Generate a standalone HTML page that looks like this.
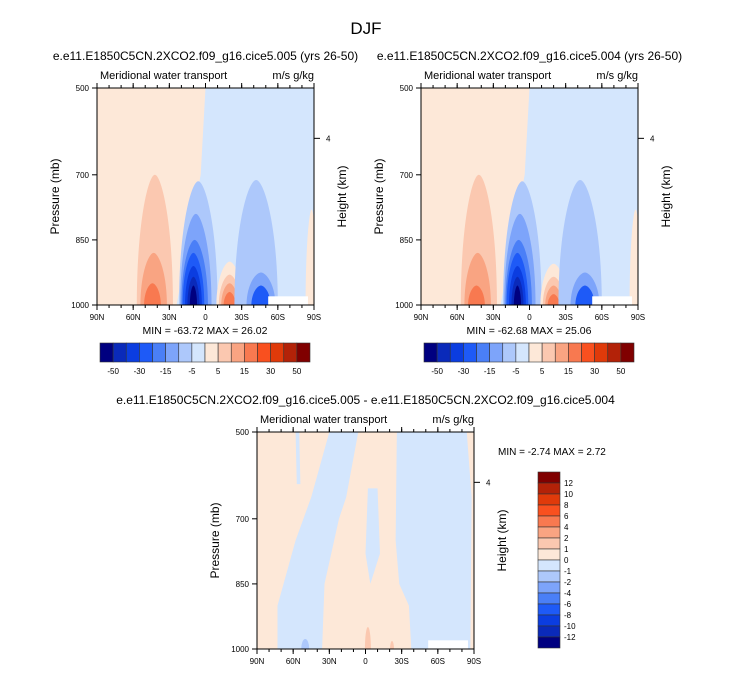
<!DOCTYPE html>
<html><head><meta charset="utf-8"><style>
body{margin:0;background:#fff;font-family:"Liberation Sans",sans-serif}
svg text{font-family:"Liberation Sans",sans-serif}
</style></head><body>
<svg id="fig" width="733" height="673" viewBox="0 0 733 673">
<text x="366" y="34" font-size="17" text-anchor="middle">DJF</text>
</svg>
<script>
const NS="http://www.w3.org/2000/svg";
const fig=document.getElementById('fig');
const colors=["#000080","#0a2aba","#0b3de0","#1e5af7","#4a7ff7","#7da4fa","#adc8fb","#d4e6fd","#fde8d8","#fbc8b0","#f9a482","#f87950","#f9501f","#e03a0a","#b32208","#800000"];
const latTicks=["90N","60N","30N","0","30S","60S","90S"];
const presTicks=[500,700,850,1000];
const cbLabelsTop=["-50","-30","-15","-5","5","15","30","50"];
const cbLabelsDiff=["12","10","8","6","4","2","1","0","-1","-2","-4","-6","-8","-10","-12"];
// blobs: [centerLat, halfWidthDeg, topPressure, colorIndex]
const blobsA=[[42,15,700,9],[43,11,880,10],[44,7,950,11],[6,16,715,6],[8,13,790,5],[9,11,850,4],[10,9,880,3],[10,7,910,2],[10,5,935,1],[10,3,955,0],[-20,11,900,8],[-20,9,930,9],[-20,7,950,10],[-20,5,970,11],[-42,18,712,6],[-46,12,925,5],[-46,8,955,3],[-88,5,780,8]];
const blobsB=[[42,15,700,9],[43,11,880,10],[44,7,955,11],[6,16,715,6],[8,13,790,5],[9,11,850,4],[10,9,880,3],[10,7,910,2],[10,5,935,1],[10,3,955,0],[-20,11,905,8],[-20,9,935,9],[-20,7,955,10],[-20,5,975,11],[-42,18,712,6],[-46,12,925,5],[-46,8,955,3],[-88,5,780,8]];
// diff panel negative regions as [lat, pressure] vertex lists
const diffNeg=[
 [[-26,500],[-84,500],[-88,650],[-87,1000],[-38,1000],[-36,900],[-28,850],[-25,750]],
 [[30,500],[6,500],[16,650],[22,700],[34,850],[36,1000],[73,1000],[73,900],[58,750],[45,650]],
 [[-2,630],[-10,630],[-12,780],[-4,850],[0,780]],
 [[58,500],[55,500],[54,620],[57,620]]
];
function el(tag,attrs,parent,name,inter){const e=document.createElementNS(NS,tag);for(const k in attrs)e.setAttribute(k,attrs[k]);


(parent||fig).appendChild(e);return e;}
function txt(x,y,s,size,anchor,name,parent,rot){const t=el('text',{x:x,y:y,'font-size':size,'text-anchor':anchor||'start'},parent,name,false);if(rot)t.setAttribute('transform','rotate(-90 '+x+' '+y+')');t.textContent=s;return t;}
function panel(px,py,title,blobs,mode,idx){
 const W=217,H=217;
 const xs=lat=>px+(90-lat)/180*W;
 const ys=p=>py+(p-500)/500*H;
 const g=el('g',{},fig,'panel-'+idx,false);
 const cid='clip'+idx;
 const cp=el('clipPath',{id:cid},g,'clip',false);
 el('rect',{x:px,y:py,width:W,height:H},cp,'clip-rect',false);
 const f=el('g',{'clip-path':'url(#'+cid+')'},g,'contour-field',false);
 if(mode==='full'){
  el('rect',{x:px,y:py,width:W,height:H,fill:colors[7]},f,'background-negative',false);
  el('polygon',{points:`${px},${py} ${xs(0)},${py} ${xs(4)},${ys(700)} ${xs(24)},${ys(1000)} ${px},${ys(1000)}`,fill:colors[8]},f,'positive-region-north',false);
  blobs.forEach(b=>{const cx=xs(b[0]),rx=b[1]/180*W,yb=ys(1000)+1,yt=ys(b[2]),h=yb-yt;
   const d=`M${cx-rx},${yb} C${cx-rx},${yt+h*0.35} ${cx-rx*0.35},${yt} ${cx},${yt} C${cx+rx*0.35},${yt} ${cx+rx},${yt+h*0.35} ${cx+rx},${yb} Z`;
   el('path',{d:d,fill:colors[b[3]]},f,'contour-blob',false);});
  el('rect',{x:xs(-52),y:ys(980),width:xs(-85)-xs(-52),height:ys(1000)-ys(980)+1,fill:'#fff'},f,'missing-data',false);
 } else {
  el('rect',{x:px,y:py,width:W,height:H,fill:colors[8]},f,'background-positive',false);
  diffNeg.forEach(poly=>{el('polygon',{points:poly.map(v=>xs(v[0])+','+ys(v[1])).join(' '),fill:colors[7]},f,'negative-region',false);});
  el('ellipse',{cx:xs(50),cy:ys(1000),rx:4,ry:10,fill:colors[6]},f,'contour-blob',false);
  el('ellipse',{cx:xs(-2),cy:ys(1000),rx:3,ry:22,fill:colors[9]},f,'contour-blob',false);
  el('ellipse',{cx:xs(-22),cy:ys(1000),rx:2,ry:8,fill:colors[9]},f,'contour-blob',false);
  el('rect',{x:xs(-52),y:ys(980),width:xs(-85)-xs(-52),height:ys(1000)-ys(980)+1,fill:'#fff'},f,'missing-data',false);
 }
 el('rect',{x:px,y:py,width:W,height:H,fill:'none',stroke:'#000','stroke-width':1},g,'plot-frame',false);
 latTicks.forEach((l,i)=>{const x=px+i*W/6;
  el('line',{x1:x,y1:py+H,x2:x,y2:py+H+5,stroke:'#000'},g,'x-tick',false);
  el('line',{x1:x,y1:py,x2:x,y2:py-5,stroke:'#000'},g,'x-tick-top',false);
  txt(x,py+H+15,l,8,'middle','x-tick-label',g);});
 for(let i=0;i<18;i++){const x=px+i*W/18;el('line',{x1:x,y1:py+H,x2:x,y2:py+H+3,stroke:'#000'},g,'x-minor-tick',false);el('line',{x1:x,y1:py,x2:x,y2:py-3,stroke:'#000'},g,'x-minor-tick-top',false);}
 presTicks.forEach(p=>{const y=ys(p);el('line',{x1:px,y1:y,x2:px-5,y2:y,stroke:'#000'},g,'y-tick',false);txt(px-8,y+3,String(p),8,'end','y-tick-label',g);});
 el('line',{x1:px+W,y1:ys(616),x2:px+W+6,y2:ys(616),stroke:'#000'},g,'height-tick',false);
 txt(px+W+12,ys(616)+3,'4',8,'start','height-tick-label',g);
 txt(px-38,py+H/2,'Pressure (mb)',12,'middle','y-axis-title',g,true);
 txt(px+W+32,py+H/2,'Height (km)',12,'middle','right-axis-title',g,true);
 txt(px+3,py-9,'Meridional water transport',11,'start','left-subtitle',g);
 txt(px+W,py-9,'m/s g/kg',11,'end','units-label',g);
 txt(px+W/2,py-28,title,12,'middle','panel-title',g);
 return g;
}
function cbHoriz(x0,y0,w,h,idx,minmax){
 const g=el('g',{},fig,'colorbar-'+idx,false);
 const bw=w/16;
 colors.forEach((c,i)=>el('rect',{x:x0+i*bw,y:y0,width:bw,height:h,fill:c,stroke:'#333','stroke-width':0.6},g,'colorbar-box',false));
 cbLabelsTop.forEach((l,i)=>txt(x0+(2*i+1)*bw,y0+h+12,l,8,'middle','colorbar-label',g));
 txt(x0+w/2,y0-9,minmax,10.5,'middle','min-max-label',g);
}
panel(97,88,'e.e11.E1850C5CN.2XCO2.f09_g16.cice5.005 (yrs 26-50)',blobsA,'full',1);
panel(421,88,'e.e11.E1850C5CN.2XCO2.f09_g16.cice5.004 (yrs 26-50)',blobsB,'full',2);
panel(257,432,'e.e11.E1850C5CN.2XCO2.f09_g16.cice5.005 - e.e11.E1850C5CN.2XCO2.f09_g16.cice5.004',null,'diff',3);
cbHoriz(100,343,210,19,1,'MIN = -63.72  MAX = 26.02');
cbHoriz(424,343,210,19,2,'MIN = -62.68  MAX = 25.06');
(function(){
 const g=el('g',{},fig,'colorbar-diff',false);
 const x0=538,y0=472,w=22,bh=11;
 colors.slice().reverse().forEach((c,i)=>el('rect',{x:x0,y:y0+i*bh,width:w,height:bh,fill:c,stroke:'#333','stroke-width':0.6},g,'colorbar-box',false));
 cbLabelsDiff.forEach((l,i)=>txt(x0+w+4,y0+(i+1)*bh+3,l,8,'start','colorbar-label',g));
 txt(498,455,'MIN =  -2.74  MAX =   2.72',10,'start','min-max-label',g);
})();
</script>
</body></html>
